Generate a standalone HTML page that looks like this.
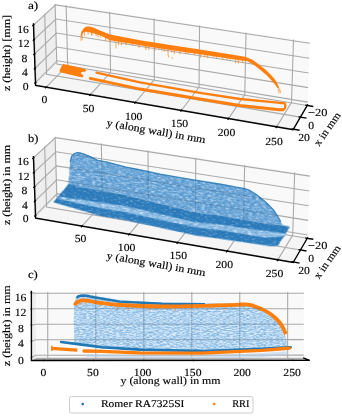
<!DOCTYPE html>
<html><head><meta charset="utf-8"><style>
html,body{margin:0;padding:0;background:#fff;}
svg{display:block;filter:blur(0.4px);}
text{font-family:"Liberation Serif",serif;text-rendering:geometricPrecision;stroke:#000;stroke-width:0.15px;}
</style></head><body>
<svg width="342" height="416" viewBox="0 0 342 416">
<polygon points="57.25,63.55 307.54,105.02 309.80,42.05 55.52,3.67" fill="#f9f9f9"/>
<polygon points="57.25,63.55 35.54,85.40 33.41,23.88 55.52,3.67" fill="#eeeeee"/>
<polygon points="57.25,63.55 35.54,85.40 293.12,129.70 307.54,105.02" fill="#f5f5f5"/>
<g fill="none" stroke="#aaaaaa" stroke-width="1.1"><polyline points="46.25,87.24 67.67,65.28 66.10,5.27"/><polyline points="90.30,94.81 110.55,72.38 109.63,11.84"/><polyline points="135.34,102.56 154.34,79.64 154.10,18.55"/><polyline points="181.37,110.48 199.08,87.05 199.55,25.41"/><polyline points="228.45,118.57 244.80,94.62 246.01,32.42"/><polyline points="276.60,126.85 291.52,102.36 293.51,39.59"/><polyline points="35.45,82.59 57.18,60.82 307.65,102.15"/><polyline points="34.95,68.39 56.78,46.99 308.17,87.61"/><polyline points="34.46,54.07 56.37,33.06 308.69,72.96"/><polyline points="33.96,39.65 55.97,19.02 309.22,58.20"/><polyline points="33.45,25.13 55.56,4.89 309.76,43.33"/><polyline points="307.26,105.50 56.83,63.98 55.09,4.06"/><polyline points="300.45,117.15 46.57,74.30 44.65,13.61"/><polyline points="293.42,129.19 35.99,84.95 33.87,23.46"/></g>
<g transform="translate(0,0)"><polygon points="63.3,64.1 84.0,68.6 86.3,70.3 85.8,71.6 81.6,72.1 80.8,73.2 83.3,75.4 83.1,77.2 80.0,77.0 59.8,72.3 59.6,70.5 62.0,65.5" fill="#ff7f0e"/>
<polyline points="96.5,72.6 140.0,82.3 200.0,92.8 240.0,99.0 270.0,101.8 284.8,103.4 285.4,105.8 284.8,108.6 283.0,109.6 279.5,109.8" fill="none" stroke="#ff7f0e" stroke-width="2.3" stroke-linejoin="miter" stroke-linecap="round"/>
<polyline points="283.0,109.7 279.5,109.8 240.0,105.6 200.0,99.1 140.0,89.1 90.3,78.4" fill="none" stroke="#ff7f0e" stroke-width="3.0" stroke-linejoin="round" stroke-linecap="round"/>
<polygon points="80.5,35.5 81.5,31.5 83.5,28.5 86.5,26.5 90.0,26.6 95.0,28.3 100.7,30.8 110.0,34.6 140.0,40.3 170.0,45.1 200.0,49.6 225.0,53.5 245.0,56.8 252.0,59.5 259.0,64.5 266.0,70.0 271.0,75.0 275.0,79.5 277.5,84.0 279.0,88.0 277.5,88.0 275.0,84.5 271.5,80.5 267.0,75.5 261.0,70.5 254.0,65.0 247.5,61.2 245.0,60.9 225.0,58.1 200.0,54.2 170.0,50.0 140.0,45.3 110.0,40.3 100.7,35.4 94.9,33.8 90.2,32.4 86.7,31.8 83.2,32.6 81.4,37.0" fill="#ff7f0e"/>
<g stroke="#ff7f0e" stroke-width="1.1" stroke-opacity="0.65" stroke-linecap="round"><line x1="91.7" y1="32.2" x2="91.9" y2="35.2"/><line x1="98.0" y1="34.0" x2="98.2" y2="37.0"/><line x1="100.6" y1="34.8" x2="100.8" y2="37.1"/><line x1="105.7" y1="37.4" x2="105.4" y2="40.8"/><line x1="110.0" y1="39.7" x2="110.1" y2="41.5"/><line x1="114.8" y1="40.5" x2="114.7" y2="41.7"/><line x1="118.5" y1="41.1" x2="118.6" y2="44.5"/><line x1="121.6" y1="41.6" x2="121.4" y2="44.7"/><line x1="126.6" y1="42.5" x2="126.3" y2="44.0"/><line x1="132.6" y1="43.5" x2="132.4" y2="45.2"/><line x1="139.0" y1="44.5" x2="138.9" y2="47.8"/><line x1="145.3" y1="45.5" x2="145.4" y2="48.0"/><line x1="148.7" y1="46.1" x2="148.8" y2="49.5"/><line x1="155.0" y1="47.1" x2="154.9" y2="50.4"/><line x1="159.0" y1="47.7" x2="158.8" y2="49.3"/><line x1="161.7" y1="48.1" x2="161.8" y2="50.0"/><line x1="164.2" y1="48.5" x2="164.1" y2="51.3"/><line x1="168.0" y1="49.1" x2="168.0" y2="52.2"/><line x1="171.7" y1="49.6" x2="171.9" y2="52.0"/><line x1="174.5" y1="50.0" x2="174.2" y2="53.6"/><line x1="180.0" y1="50.8" x2="179.7" y2="54.0"/><line x1="185.6" y1="51.6" x2="185.7" y2="53.7"/><line x1="188.2" y1="51.9" x2="188.0" y2="53.3"/><line x1="194.5" y1="52.8" x2="194.6" y2="54.5"/><line x1="200.7" y1="53.7" x2="200.6" y2="57.2"/><line x1="204.6" y1="54.3" x2="204.8" y2="56.8"/><line x1="207.5" y1="54.8" x2="207.7" y2="57.8"/><line x1="213.5" y1="55.7" x2="213.8" y2="57.0"/><line x1="216.3" y1="56.2" x2="216.4" y2="58.2"/><line x1="222.5" y1="57.1" x2="222.8" y2="59.1"/><line x1="227.2" y1="57.8" x2="227.1" y2="59.8"/><line x1="230.4" y1="58.3" x2="230.2" y2="59.6"/><line x1="235.7" y1="59.0" x2="235.5" y2="62.6"/><line x1="238.4" y1="59.4" x2="238.4" y2="62.9"/><line x1="242.5" y1="59.9" x2="242.5" y2="61.7"/></g>
<line x1="81" y1="37" x2="81" y2="40.5" stroke="#ff7f0e" stroke-width="1.1" stroke-opacity="0.6" stroke-linecap="round"/>
<line x1="84.5" y1="32" x2="84.5" y2="35.5" stroke="#ff7f0e" stroke-width="1.1" stroke-opacity="0.6" stroke-linecap="round"/>
<line x1="88" y1="32" x2="88.2" y2="34.5" stroke="#ff7f0e" stroke-width="1.1" stroke-opacity="0.6" stroke-linecap="round"/>
<line x1="91.5" y1="32.5" x2="91.5" y2="34.8" stroke="#ff7f0e" stroke-width="1.1" stroke-opacity="0.6" stroke-linecap="round"/>
<line x1="96" y1="33.5" x2="96.2" y2="35.8" stroke="#ff7f0e" stroke-width="1.1" stroke-opacity="0.6" stroke-linecap="round"/>
<line x1="82.2" y1="36" x2="82.2" y2="39.5" stroke="#ff7f0e" stroke-width="1.1" stroke-opacity="0.6" stroke-linecap="round"/>
<line x1="116" y1="43" x2="116" y2="48" stroke="#ff7f0e" stroke-width="1.1" stroke-opacity="0.6" stroke-linecap="round"/>
<line x1="125.8" y1="41" x2="125.8" y2="44.2" stroke="#ff7f0e" stroke-width="1.1" stroke-opacity="0.6" stroke-linecap="round"/>
<line x1="146" y1="46.3" x2="146" y2="49.5" stroke="#ff7f0e" stroke-width="1.1" stroke-opacity="0.6" stroke-linecap="round"/>
<line x1="168" y1="53" x2="168.5" y2="57" stroke="#ff7f0e" stroke-width="1.1" stroke-opacity="0.6" stroke-linecap="round"/>
<line x1="172" y1="57.5" x2="172.3" y2="58.5" stroke="#ff7f0e" stroke-width="1.1" stroke-opacity="0.6" stroke-linecap="round"/>
<line x1="277.5" y1="85" x2="279" y2="93" stroke="#ff7f0e" stroke-width="1.1" stroke-opacity="0.6" stroke-linecap="round"/>
<line x1="279.5" y1="89" x2="280.5" y2="92.5" stroke="#ff7f0e" stroke-width="1.1" stroke-opacity="0.6" stroke-linecap="round"/></g>
<g fill="none" stroke="#000" stroke-width="1.35" stroke-linecap="square">
<polyline points="33.41,23.88 35.54,85.40 293.12,129.70 307.54,105.02"/>
<polyline points="305.93,105.28 312.59,106.38"/>
<polyline points="299.10,116.92 305.86,118.06"/>
<polyline points="292.05,128.95 298.90,130.13"/>
<polyline points="46.61,86.86 45.69,87.80"/>
<polyline points="90.65,94.43 89.78,95.39"/>
<polyline points="135.66,102.16 134.84,103.15"/>
<polyline points="181.68,110.07 180.91,111.08"/>
<polyline points="228.73,118.16 228.02,119.19"/>
<polyline points="276.85,126.43 276.21,127.49"/>
<polyline points="35.82,82.22 34.89,83.16"/>
<polyline points="35.33,68.02 34.39,68.94"/>
<polyline points="34.83,53.71 33.89,54.62"/>
<polyline points="34.34,39.30 33.39,40.19"/>
<polyline points="33.83,24.78 32.88,25.65"/>
</g>
<polygon points="57.25,196.35 307.54,237.82 309.80,174.85 55.52,136.47" fill="#f9f9f9"/>
<polygon points="57.25,196.35 35.54,218.20 33.41,156.68 55.52,136.47" fill="#eeeeee"/>
<polygon points="57.25,196.35 35.54,218.20 293.12,262.50 307.54,237.82" fill="#f5f5f5"/>
<g fill="none" stroke="#aaaaaa" stroke-width="1.1"><polyline points="81.91,226.17 102.39,203.83 101.34,143.39"/><polyline points="129.17,234.30 148.35,211.45 148.02,150.43"/><polyline points="177.55,242.62 195.36,219.23 195.78,157.64"/><polyline points="227.07,251.14 243.46,227.20 244.65,165.02"/><polyline points="277.78,259.86 292.67,235.35 294.67,172.57"/><polyline points="35.45,215.39 57.18,193.62 307.65,234.95"/><polyline points="34.95,201.19 56.78,179.79 308.17,220.41"/><polyline points="34.46,186.87 56.37,165.86 308.69,205.76"/><polyline points="33.96,172.45 55.97,151.82 309.22,191.00"/><polyline points="33.45,157.93 55.56,137.69 309.76,176.13"/><polyline points="307.26,238.30 56.83,196.78 55.09,136.86"/><polyline points="300.45,249.95 46.57,207.10 44.65,146.41"/><polyline points="293.42,261.99 35.99,217.75 33.87,156.26"/></g>
<defs><filter id="mb1" x="0" y="0" width="100%" height="100%" color-interpolation-filters="sRGB">
<feTurbulence type="fractalNoise" baseFrequency="0.25 0.95" numOctaves="2" seed="3" result="n"/>
<feColorMatrix in="n" type="matrix" values="0 0 0 0 0.86  0 0 0 0 0.93  0 0 0 0 0.99  2.0 0 0 0 -0.85" result="w"/>
<feComposite in="w" in2="SourceGraphic" operator="in" result="wc"/>
<feColorMatrix in="n" type="matrix" values="0 0 0 0 0.1  0 0 0 0 0.43  0 0 0 0 0.7  0 -1.8 0 0 0.7" result="d"/>
<feComposite in="d" in2="SourceGraphic" operator="in" result="dc"/>
<feMerge><feMergeNode in="SourceGraphic"/><feMergeNode in="dc"/><feMergeNode in="wc"/></feMerge>
</filter><filter id="mb2" x="0" y="0" width="100%" height="100%" color-interpolation-filters="sRGB">
<feTurbulence type="fractalNoise" baseFrequency="0.25 0.9" numOctaves="2" seed="7" result="n"/>
<feColorMatrix in="n" type="matrix" values="0 0 0 0 0.86  0 0 0 0 0.93  0 0 0 0 0.99  1.5 0 0 0 -0.8" result="w"/>
<feComposite in="w" in2="SourceGraphic" operator="in" result="wc"/>
<feColorMatrix in="n" type="matrix" values="0 0 0 0 0.1  0 0 0 0 0.43  0 0 0 0 0.7  0 -1.5 0 0 0.5" result="d"/>
<feComposite in="d" in2="SourceGraphic" operator="in" result="dc"/>
<feMerge><feMergeNode in="SourceGraphic"/><feMergeNode in="dc"/><feMergeNode in="wc"/></feMerge>
</filter><filter id="mb3" x="0" y="0" width="100%" height="100%" color-interpolation-filters="sRGB">
<feTurbulence type="fractalNoise" baseFrequency="0.2 0.9" numOctaves="2" seed="11" result="n"/>
<feColorMatrix in="n" type="matrix" values="0 0 0 0 0.86  0 0 0 0 0.93  0 0 0 0 0.99  2.2 0 0 0 -0.85" result="w"/>
<feComposite in="w" in2="SourceGraphic" operator="in" result="wc"/>
<feColorMatrix in="n" type="matrix" values="0 0 0 0 0.1  0 0 0 0 0.43  0 0 0 0 0.7  0 -2.0 0 0 0.75" result="d"/>
<feComposite in="d" in2="SourceGraphic" operator="in" result="dc"/>
<feMerge><feMergeNode in="SourceGraphic"/><feMergeNode in="dc"/><feMergeNode in="wc"/></feMerge>
</filter></defs>
<clipPath id="clipwb"><polygon points="70.2,162.0 71.6,156.3 74.4,153.5 77.2,152.7 80.0,153.0 84.7,154.4 89.4,156.3 94.1,158.6 98.0,160.5 108.0,162.4 126.0,167.2 138.0,169.5 160.0,174.1 192.0,179.7 222.0,184.5 236.0,187.2 244.8,188.6 249.5,190.3 253.5,192.7 257.0,195.0 260.6,197.9 264.0,200.8 267.6,204.0 273.7,210.2 277.2,215.5 280.7,221.6 282.5,225.1 265.0,223.4 220.0,215.5 196.0,212.5 124.0,194.7 100.0,190.8 68.5,184.0 68.2,186.0 69.5,170.0"/></clipPath>
<g transform="rotate(10,170,190)" filter="url(#mb1)"><polygon transform="rotate(-10,170,190)" points="70.2,162.0 71.6,156.3 74.4,153.5 77.2,152.7 80.0,153.0 84.7,154.4 89.4,156.3 94.1,158.6 98.0,160.5 108.0,162.4 126.0,167.2 138.0,169.5 160.0,174.1 192.0,179.7 222.0,184.5 236.0,187.2 244.8,188.6 249.5,190.3 253.5,192.7 257.0,195.0 260.6,197.9 264.0,200.8 267.6,204.0 273.7,210.2 277.2,215.5 280.7,221.6 282.5,225.1 265.0,223.4 220.0,215.5 196.0,212.5 124.0,194.7 100.0,190.8 68.5,184.0 68.2,186.0 69.5,170.0" fill="#5e9dd2"/></g>
<polyline points="70.2,162.0 71.6,156.3 74.4,153.5 77.2,152.7 80.0,153.0 84.7,154.4 89.4,156.3 94.1,158.6 98.0,160.5 108.0,162.4 126.0,167.2 138.0,169.5 160.0,174.1 192.0,179.7 222.0,184.5 236.0,187.2 244.8,188.6 249.5,190.3 253.5,192.7 257.0,195.0 260.6,197.9 264.0,200.8 267.6,204.0 273.7,210.2 277.2,215.5 280.7,221.6" fill="none" stroke="#2677b5" stroke-width="1.3" stroke-opacity="0.85"/>
<g transform="rotate(10,170,215)" filter="url(#mb2)"><polygon transform="rotate(-10,170,215)" points="53.8,201.5 67.0,186.0 68.5,184.0 100.0,190.8 124.0,194.7 196.0,212.5 220.0,215.5 265.0,223.4 283.2,225.3 290.1,226.7 287.3,230.9 284.5,235.6 280.7,241.2 277.9,245.9 271.4,246.3 262.0,244.9 220.0,238.9 196.0,235.5 124.0,219.8 100.0,215.9 73.4,208.2 53.5,202.3" fill="#2b7aba"/></g>
<g transform="rotate(10,170,215)" filter="url(#mb3)"><polygon transform="rotate(-10,170,215)" points="58.0,196.5 100.0,202.5 124.0,205.9 196.0,222.4 220.0,224.7 265.0,230.9 286.0,233.5 285.0,236.5 265.0,237.5 220.0,230.1 196.0,227.4 124.0,212.0 100.0,208.1 60.0,199.5" fill="#78afdc"/></g>
<g fill="none" stroke="#1e3c5a" stroke-width="1" stroke-opacity="0.22" clip-path="url(#clipwb)"><polyline points="81.91,226.17 102.39,203.83 101.34,143.39"/><polyline points="129.17,234.30 148.35,211.45 148.02,150.43"/><polyline points="177.55,242.62 195.36,219.23 195.78,157.64"/><polyline points="227.07,251.14 243.46,227.20 244.65,165.02"/><polyline points="277.78,259.86 292.67,235.35 294.67,172.57"/><polyline points="35.45,215.39 57.18,193.62 307.65,234.95"/><polyline points="34.95,201.19 56.78,179.79 308.17,220.41"/><polyline points="34.46,186.87 56.37,165.86 308.69,205.76"/><polyline points="33.96,172.45 55.97,151.82 309.22,191.00"/><polyline points="33.45,157.93 55.56,137.69 309.76,176.13"/></g>
<g fill="none" stroke="#000" stroke-width="1.35" stroke-linecap="square">
<polyline points="33.41,156.68 35.54,218.20 293.12,262.50 307.54,237.82"/>
<polyline points="305.93,238.08 312.59,239.18"/>
<polyline points="299.10,249.72 305.86,250.86"/>
<polyline points="292.05,261.75 298.90,262.93"/>
<polyline points="82.27,225.79 81.38,226.75"/>
<polyline points="129.51,233.91 128.68,234.89"/>
<polyline points="177.85,242.22 177.09,243.22"/>
<polyline points="227.35,250.72 226.64,251.76"/>
<polyline points="278.04,259.44 277.39,260.49"/>
<polyline points="35.82,215.02 34.89,215.96"/>
<polyline points="35.33,200.82 34.39,201.74"/>
<polyline points="34.83,186.51 33.89,187.42"/>
<polyline points="34.34,172.10 33.39,172.99"/>
<polyline points="33.83,157.58 32.88,158.45"/>
</g>
<polygon points="35.93,358.33 303.77,358.18 303.85,291.93 35.86,291.90" fill="#f9f9f9"/>
<polygon points="35.93,358.33 31.45,360.48 31.37,291.45 35.86,291.90" fill="#eeeeee"/>
<polygon points="35.93,358.33 31.45,360.48 309.76,360.32 303.77,358.18" fill="#f5f5f5"/>
<g fill="none" stroke="#aaaaaa" stroke-width="1.1"><polyline points="43.75,360.48 47.77,358.32 47.70,291.90"/><polyline points="93.69,360.45 95.83,358.29 95.79,291.90"/><polyline points="143.59,360.42 143.84,358.27 143.83,291.91"/><polyline points="193.43,360.39 191.81,358.24 191.82,291.91"/><polyline points="243.22,360.36 239.73,358.21 239.77,291.92"/><polyline points="292.96,360.33 287.61,358.19 287.67,291.93"/><polyline points="31.44,357.29 35.93,355.26 303.78,355.11"/><polyline points="31.42,341.18 35.91,339.75 303.79,339.66"/><polyline points="31.41,325.07 35.89,324.25 303.81,324.19"/><polyline points="31.39,308.95 35.88,308.74 303.83,308.72"/><polyline points="31.37,292.83 35.86,293.23 303.85,293.25"/><polyline points="303.89,358.22 35.85,358.37"/><polyline points="306.71,359.23 33.73,359.38"/><polyline points="309.64,360.28 31.54,360.44"/></g>
<defs><filter id="mc1" x="0" y="0" width="100%" height="100%" color-interpolation-filters="sRGB">
<feTurbulence type="fractalNoise" baseFrequency="0.3 0.95" numOctaves="2" seed="21" result="n"/>
<feColorMatrix in="n" type="matrix" values="0 0 0 0 0.86  0 0 0 0 0.93  0 0 0 0 0.99  2.5 0 0 0 -0.8" result="w"/>
<feComposite in="w" in2="SourceGraphic" operator="in" result="wc"/>
<feColorMatrix in="n" type="matrix" values="0 0 0 0 0.1  0 0 0 0 0.43  0 0 0 0 0.7  0 -1.9 0 0 0.68" result="d"/>
<feComposite in="d" in2="SourceGraphic" operator="in" result="dc"/>
<feMerge><feMergeNode in="SourceGraphic"/><feMergeNode in="dc"/><feMergeNode in="wc"/></feMerge>
</filter></defs>
<clipPath id="clipwc"><polygon points="74.2,342.0 73.8,320.0 74.2,306.0 75.2,300.0 77.0,296.0 81.0,294.2 84.5,294.1 88.0,294.6 95.0,296.0 120.0,300.3 162.0,302.7 200.0,303.4 230.0,303.3 245.0,303.0 250.0,303.5 256.0,305.5 262.0,308.5 268.0,313.0 274.0,318.5 279.0,324.5 283.0,331.0 285.5,337.0 287.5,345.0 287.0,348.0 262.0,349.2 230.0,350.5 202.0,351.3 170.0,351.2 140.0,350.3 102.0,348.3 90.0,346.5 75.0,344.5"/></clipPath>
<polygon points="74.2,342.0 73.8,320.0 74.2,306.0 75.2,300.0 77.0,296.0 81.0,294.2 84.5,294.1 88.0,294.6 95.0,296.0 120.0,300.3 162.0,302.7 200.0,303.4 230.0,303.3 245.0,303.0 250.0,303.5 256.0,305.5 262.0,308.5 268.0,313.0 274.0,318.5 279.0,324.5 283.0,331.0 285.5,337.0 287.5,345.0 287.0,348.0 262.0,349.2 230.0,350.5 202.0,351.3 170.0,351.2 140.0,350.3 102.0,348.3 90.0,346.5 75.0,344.5" fill="#90bee4" filter="url(#mc1)"/>
<polyline points="61.1,342.0 80.0,344.4 102.0,347.3 140.0,349.6 202.0,351.0 262.0,348.8 290.0,347.3" fill="none" stroke="#1f77b4" stroke-width="2.6" stroke-linecap="round" stroke-linejoin="round"/>
<circle cx="290.6" cy="347.3" r="1.3" fill="#1f77b4"/>
<polyline points="76.5,298.0 78.0,296.5 81.0,295.7 84.5,295.6 88.0,296.0 91.5,296.8 95.0,297.5 120.0,301.6 162.0,303.7 205.0,304.2" fill="none" stroke="#1f77b4" stroke-width="2.4" stroke-linejoin="round"/>
<path d="M75.20,305.50 C75.27,305.18 75.22,304.18 75.60,303.60 C75.98,303.02 76.60,302.52 77.50,302.00 C78.40,301.48 79.83,300.78 81.00,300.50 C82.17,300.22 83.33,300.27 84.50,300.30 C85.67,300.33 86.25,300.40 88.00,300.70 C89.75,301.00 89.67,301.38 95.00,302.10 C100.33,302.82 108.83,304.27 120.00,305.00 C131.17,305.73 146.67,306.40 162.00,306.50 C177.33,306.60 199.67,305.87 212.00,305.60 C224.33,305.33 230.50,305.12 236.00,304.90 C241.50,304.68 242.50,304.25 245.00,304.30 C247.50,304.35 249.00,304.70 251.00,305.20 C253.00,305.70 255.00,306.57 257.00,307.30 C259.00,308.03 261.00,308.65 263.00,309.60 C265.00,310.55 267.08,311.73 269.00,313.00 C270.92,314.27 272.83,315.73 274.50,317.20 C276.17,318.67 277.67,320.20 279.00,321.80 C280.33,323.40 281.57,325.27 282.50,326.80 C283.43,328.33 284.05,329.80 284.60,331.00 C285.15,332.20 285.60,333.50 285.80,334.00" fill="none" stroke="#ff7f0e" stroke-width="3.8" stroke-linejoin="round"/>
<line x1="80" y1="303" x2="80.3" y2="305.5" stroke="#ff7f0e" stroke-width="1" stroke-opacity="0.7"/>
<line x1="86" y1="302.5" x2="86.3" y2="304.5" stroke="#ff7f0e" stroke-width="1" stroke-opacity="0.7"/>
<line x1="100" y1="304" x2="100.3" y2="306.5" stroke="#ff7f0e" stroke-width="1" stroke-opacity="0.7"/>
<line x1="117" y1="307" x2="117.3" y2="309" stroke="#ff7f0e" stroke-width="1" stroke-opacity="0.7"/>
<line x1="128" y1="307.5" x2="128.3" y2="310" stroke="#ff7f0e" stroke-width="1" stroke-opacity="0.7"/>
<line x1="150" y1="308.5" x2="150.3" y2="310.5" stroke="#ff7f0e" stroke-width="1" stroke-opacity="0.7"/>
<line x1="175" y1="308.5" x2="175.3" y2="311" stroke="#ff7f0e" stroke-width="1" stroke-opacity="0.7"/>
<line x1="190" y1="308" x2="190.3" y2="310" stroke="#ff7f0e" stroke-width="1" stroke-opacity="0.7"/>
<line x1="225" y1="307.5" x2="225.3" y2="309.5" stroke="#ff7f0e" stroke-width="1" stroke-opacity="0.7"/>
<line x1="284.5" y1="334" x2="284.8" y2="336.5" stroke="#ff7f0e" stroke-width="1" stroke-opacity="0.7"/>
<polygon points="86.0,354.2 140.0,355.6 202.0,355.8 262.0,353.0 288.0,351.2 288.0,354.5 262.0,357.2 202.0,358.6 140.0,358.4 86.0,356.8" fill="#b5d0ea" fill-opacity="0.55"/>
<polyline points="51.5,348.4 77.3,350.1" fill="none" stroke="#ff7f0e" stroke-width="3.2"/>
<line x1="51.8" y1="345.8" x2="51.8" y2="351" stroke="#ff7f0e" stroke-width="1.4"/>
<polyline points="84.0,351.0 102.0,351.4 140.0,352.8 202.0,353.2 262.0,350.3 279.5,349.0 289.5,348.1" fill="none" stroke="#ff7f0e" stroke-width="3.3" stroke-linecap="round" stroke-linejoin="round"/>
<g fill="none" stroke="#4a6682" stroke-width="1" stroke-opacity="0.42" clip-path="url(#clipwc)"><polyline points="43.75,360.48 47.77,358.32 47.70,291.90"/><polyline points="93.69,360.45 95.83,358.29 95.79,291.90"/><polyline points="143.59,360.42 143.84,358.27 143.83,291.91"/><polyline points="193.43,360.39 191.81,358.24 191.82,291.91"/><polyline points="243.22,360.36 239.73,358.21 239.77,291.92"/><polyline points="292.96,360.33 287.61,358.19 287.67,291.93"/><polyline points="31.44,357.29 35.93,355.26 303.78,355.11"/><polyline points="31.42,341.18 35.91,339.75 303.79,339.66"/><polyline points="31.41,325.07 35.89,324.25 303.81,324.19"/><polyline points="31.39,308.95 35.88,308.74 303.83,308.72"/><polyline points="31.37,292.83 35.86,293.23 303.85,293.25"/></g>
<g fill="none" stroke="#000" stroke-width="1.35" stroke-linecap="square">
<polyline points="31.37,291.45 31.45,360.48 309.76,360.32 303.77,358.18"/>
<polyline points="43.82,360.44 43.65,360.53"/>
<polyline points="93.73,360.41 93.64,360.50"/>
<polyline points="143.59,360.38 143.58,360.47"/>
<polyline points="193.40,360.35 193.47,360.45"/>
<polyline points="243.16,360.32 243.31,360.42"/>
<polyline points="292.87,360.29 293.10,360.39"/>
<polyline points="31.52,357.26 31.33,357.34"/>
<polyline points="31.50,341.16 31.31,341.22"/>
<polyline points="31.48,325.06 31.29,325.09"/>
<polyline points="31.46,308.95 31.27,308.96"/>
<polyline points="31.45,292.84 31.25,292.82"/>
</g>
<text x="23.10" y="32.68" font-size="10.9" text-anchor="middle" textLength="11.70" lengthAdjust="spacingAndGlyphs" fill="#000">16</text>
<text x="23.70" y="47.18" font-size="10.9" text-anchor="middle" textLength="11.70" lengthAdjust="spacingAndGlyphs" fill="#000">12</text>
<text x="24.35" y="61.68" font-size="10.9" text-anchor="middle" textLength="5.85" lengthAdjust="spacingAndGlyphs" fill="#000">8</text>
<text x="25.00" y="75.88" font-size="10.9" text-anchor="middle" textLength="5.85" lengthAdjust="spacingAndGlyphs" fill="#000">4</text>
<text x="25.60" y="89.68" font-size="10.9" text-anchor="middle" textLength="5.85" lengthAdjust="spacingAndGlyphs" fill="#000">0</text>
<text x="44.50" y="103.28" font-size="10.9" text-anchor="middle" textLength="5.85" lengthAdjust="spacingAndGlyphs" fill="#000">0</text>
<text x="88.50" y="111.88" font-size="10.9" text-anchor="middle" textLength="11.70" lengthAdjust="spacingAndGlyphs" fill="#000">50</text>
<text x="133.70" y="119.68" font-size="10.9" text-anchor="middle" textLength="17.55" lengthAdjust="spacingAndGlyphs" fill="#000">100</text>
<text x="179.40" y="127.28" font-size="10.9" text-anchor="middle" textLength="17.55" lengthAdjust="spacingAndGlyphs" fill="#000">150</text>
<text x="226.50" y="136.18" font-size="10.9" text-anchor="middle" textLength="17.55" lengthAdjust="spacingAndGlyphs" fill="#000">200</text>
<text x="274.00" y="144.98" font-size="10.9" text-anchor="middle" textLength="17.55" lengthAdjust="spacingAndGlyphs" fill="#000">250</text>
<text x="317.70" y="116.48" font-size="10.9" text-anchor="middle" textLength="19.41" lengthAdjust="spacingAndGlyphs" fill="#000">−20</text>
<text x="311.10" y="128.88" font-size="10.9" text-anchor="middle" textLength="5.85" lengthAdjust="spacingAndGlyphs" fill="#000">0</text>
<text x="304.00" y="141.48" font-size="10.9" text-anchor="middle" textLength="11.70" lengthAdjust="spacingAndGlyphs" fill="#000">20</text>
<text x="27.90" y="9.20" font-size="11.0" text-anchor="start" textLength="10.40" lengthAdjust="spacingAndGlyphs" fill="#000">a)</text>
<text transform="translate(155.60,134.60) rotate(9.9)" x="0" y="0" font-size="10.6" text-anchor="middle" textLength="100.00" lengthAdjust="spacingAndGlyphs" fill="#000">y (along wall) in mm</text>
<text transform="translate(330.00,131.00) rotate(-55)" x="0" y="0" font-size="10.6" text-anchor="middle" textLength="38.50" lengthAdjust="spacingAndGlyphs" fill="#000">x in mm</text>
<text transform="translate(9.60,53.00) rotate(-90)" x="0" y="0" font-size="10.6" text-anchor="middle" textLength="76.00" lengthAdjust="spacingAndGlyphs" fill="#000">z (height) [mm]</text>
<text x="23.10" y="165.48" font-size="10.9" text-anchor="middle" textLength="11.70" lengthAdjust="spacingAndGlyphs" fill="#000">16</text>
<text x="23.70" y="179.98" font-size="10.9" text-anchor="middle" textLength="11.70" lengthAdjust="spacingAndGlyphs" fill="#000">12</text>
<text x="24.35" y="194.48" font-size="10.9" text-anchor="middle" textLength="5.85" lengthAdjust="spacingAndGlyphs" fill="#000">8</text>
<text x="25.00" y="208.68" font-size="10.9" text-anchor="middle" textLength="5.85" lengthAdjust="spacingAndGlyphs" fill="#000">4</text>
<text x="25.60" y="222.48" font-size="10.9" text-anchor="middle" textLength="5.85" lengthAdjust="spacingAndGlyphs" fill="#000">0</text>
<text x="80.50" y="241.78" font-size="10.9" text-anchor="middle" textLength="11.70" lengthAdjust="spacingAndGlyphs" fill="#000">50</text>
<text x="126.60" y="251.18" font-size="10.9" text-anchor="middle" textLength="17.55" lengthAdjust="spacingAndGlyphs" fill="#000">100</text>
<text x="178.30" y="258.78" font-size="10.9" text-anchor="middle" textLength="17.55" lengthAdjust="spacingAndGlyphs" fill="#000">150</text>
<text x="224.30" y="267.78" font-size="10.9" text-anchor="middle" textLength="17.55" lengthAdjust="spacingAndGlyphs" fill="#000">200</text>
<text x="274.50" y="277.28" font-size="10.9" text-anchor="middle" textLength="17.55" lengthAdjust="spacingAndGlyphs" fill="#000">250</text>
<text x="317.70" y="249.28" font-size="10.9" text-anchor="middle" textLength="19.41" lengthAdjust="spacingAndGlyphs" fill="#000">−20</text>
<text x="311.10" y="261.68" font-size="10.9" text-anchor="middle" textLength="5.85" lengthAdjust="spacingAndGlyphs" fill="#000">0</text>
<text x="304.00" y="274.28" font-size="10.9" text-anchor="middle" textLength="11.70" lengthAdjust="spacingAndGlyphs" fill="#000">20</text>
<text x="27.90" y="142.00" font-size="11.0" text-anchor="start" textLength="10.40" lengthAdjust="spacingAndGlyphs" fill="#000">b)</text>
<text transform="translate(155.60,267.40) rotate(9.9)" x="0" y="0" font-size="10.6" text-anchor="middle" textLength="100.00" lengthAdjust="spacingAndGlyphs" fill="#000">y (along wall) in mm</text>
<text transform="translate(330.00,263.80) rotate(-55)" x="0" y="0" font-size="10.6" text-anchor="middle" textLength="38.50" lengthAdjust="spacingAndGlyphs" fill="#000">x in mm</text>
<text transform="translate(9.60,185.00) rotate(-90)" x="0" y="0" font-size="10.6" text-anchor="middle" textLength="80.00" lengthAdjust="spacingAndGlyphs" fill="#000">z (height) in mm</text>
<text x="20.50" y="300.98" font-size="10.9" text-anchor="middle" textLength="11.70" lengthAdjust="spacingAndGlyphs" fill="#000">16</text>
<text x="20.50" y="315.98" font-size="10.9" text-anchor="middle" textLength="11.70" lengthAdjust="spacingAndGlyphs" fill="#000">12</text>
<text x="21.00" y="331.58" font-size="10.9" text-anchor="middle" textLength="5.85" lengthAdjust="spacingAndGlyphs" fill="#000">8</text>
<text x="21.00" y="347.48" font-size="10.9" text-anchor="middle" textLength="5.85" lengthAdjust="spacingAndGlyphs" fill="#000">4</text>
<text x="21.00" y="363.88" font-size="10.9" text-anchor="middle" textLength="5.85" lengthAdjust="spacingAndGlyphs" fill="#000">0</text>
<text x="43.50" y="376.48" font-size="10.9" text-anchor="middle" textLength="5.85" lengthAdjust="spacingAndGlyphs" fill="#000">0</text>
<text x="92.90" y="376.48" font-size="10.9" text-anchor="middle" textLength="11.70" lengthAdjust="spacingAndGlyphs" fill="#000">50</text>
<text x="142.60" y="376.48" font-size="10.9" text-anchor="middle" textLength="17.55" lengthAdjust="spacingAndGlyphs" fill="#000">100</text>
<text x="192.80" y="376.48" font-size="10.9" text-anchor="middle" textLength="17.55" lengthAdjust="spacingAndGlyphs" fill="#000">150</text>
<text x="242.20" y="376.48" font-size="10.9" text-anchor="middle" textLength="17.55" lengthAdjust="spacingAndGlyphs" fill="#000">200</text>
<text x="292.10" y="376.48" font-size="10.9" text-anchor="middle" textLength="17.55" lengthAdjust="spacingAndGlyphs" fill="#000">250</text>
<text x="27.90" y="278.30" font-size="11.0" text-anchor="start" textLength="9.90" lengthAdjust="spacingAndGlyphs" fill="#000">c)</text>
<text x="170.50" y="384.20" font-size="10.6" text-anchor="middle" textLength="100.00" lengthAdjust="spacingAndGlyphs" fill="#000">y (along wall) in mm</text>
<text transform="translate(10.00,325.75) rotate(-90)" x="0" y="0" font-size="10.6" text-anchor="middle" textLength="81.00" lengthAdjust="spacingAndGlyphs" fill="#000">z (height) in mm</text>
<rect x="69.5" y="396.6" width="183.5" height="16.4" rx="2" ry="2" fill="#fff" fill-opacity="0.8" stroke="#cccccc" stroke-width="1"/>
<circle cx="82.7" cy="404.1" r="1.3" fill="#1f77b4"/>
<circle cx="214.2" cy="404.0" r="1.3" fill="#ff7f0e"/>
<text x="100.90" y="407.40" font-size="10.4" text-anchor="start" textLength="83.50" lengthAdjust="spacingAndGlyphs" fill="#000">Romer RA7325SI</text>
<text x="232.20" y="407.40" font-size="10.4" text-anchor="start" textLength="17.30" lengthAdjust="spacingAndGlyphs" fill="#000">RRI</text>
</svg></body></html>
